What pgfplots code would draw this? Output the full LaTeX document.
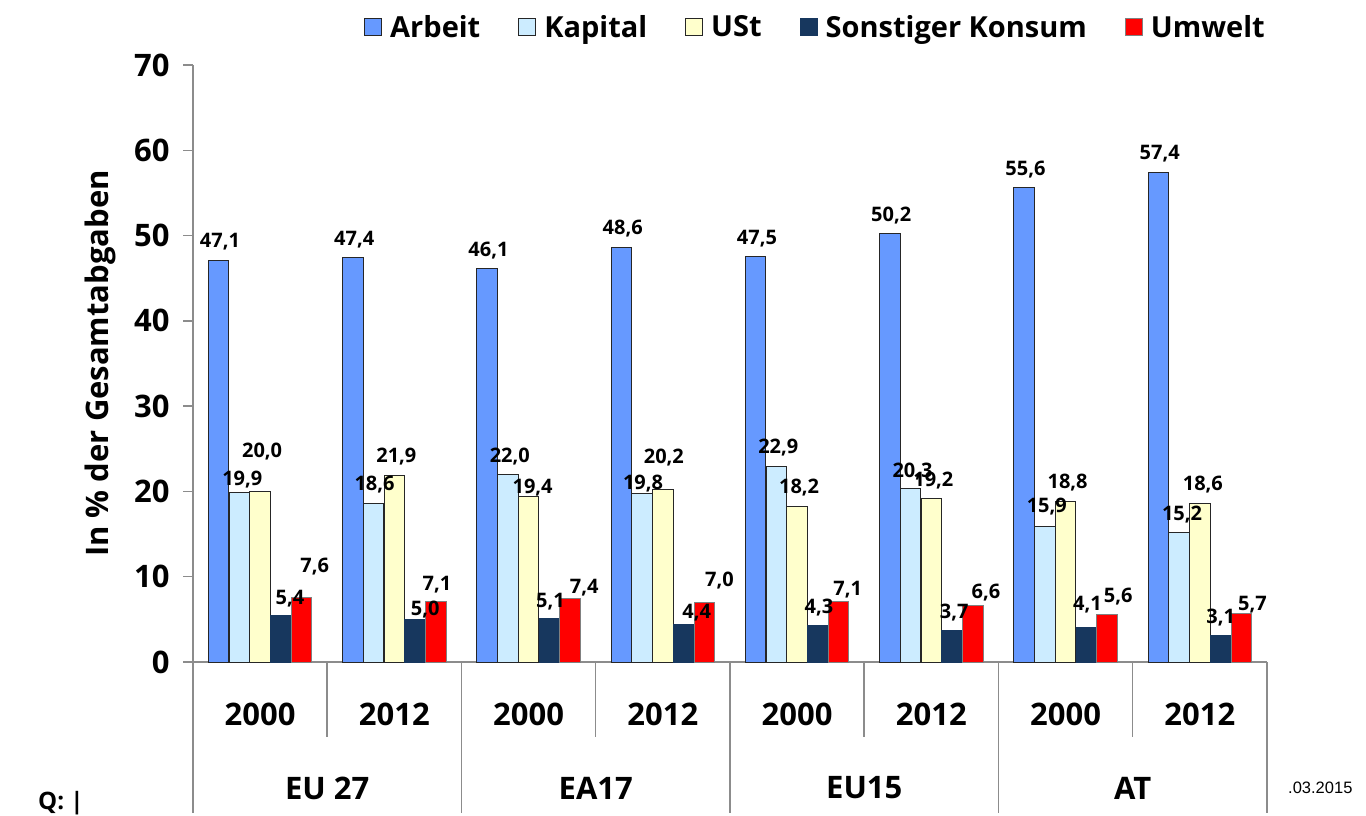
\documentclass[border=0pt]{standalone}
\usepackage{fontspec}
\setmainfont{Open Sans}
\newfontfamily\arialf{Liberation Sans}
\usepackage{pgfplots}
\usepackage{pgfplotstable}
\pgfplotsset{compat=1.18}
\definecolor{cArb}{HTML}{6699FF}
\definecolor{cKap}{HTML}{CCECFF}
\definecolor{cUSt}{HTML}{FFFFCC}
\definecolor{cSon}{HTML}{17375E}
\definecolor{cUmw}{HTML}{FF0000}
\definecolor{axgray}{HTML}{8C8C8C}

\pgfplotstableread{
x y dx dy
0 47.1 1.5 18.5
1 47.4 1.5 18.5
2 46.1 1.5 18.5
3 48.6 1.5 18.5
4 47.5 1.5 18.5
5 50.2 1.5 18.5
6 55.6 1.5 18.5
7 57.4 1.5 18.5
}\tArb
\pgfplotstableread{
x y dx dy
0 19.9 3 13
1 18.6 1 19
2 22.0 2 18
3 19.8 1 10
4 22.9 2 19
5 20.3 2 17
6 15.9 2 20
7 15.2 3 18
}\tKap
\pgfplotstableread{
x y dx dy
0 20.0 2 40
1 21.9 2 19
2 19.4 4 9
3 20.2 1 32
4 18.2 2 19
5 19.2 2 18
6 18.8 2 19
7 18.6 3 19
}\tUSt
\pgfplotstableread{
x y dx dy
0 5.4 9 17
1 5.0 10 10
2 5.1 1 17
3 4.4 13 12
4 4.3 1 18
5 3.7 2 18
6 4.1 1 22
7 3.1 0 18
}\tSon
\pgfplotstableread{
x y dx dy
0 7.6 13 31
1 7.1 1 17
2 7.4 14 11
3 7.0 15 22
4 7.1 9 12
5 6.6 13 13
6 5.6 11 18
7 5.7 11 9
}\tUmw

\begin{document}
\begin{tikzpicture}
\path[use as bounding box] (0,0) rectangle (1366bp,816bp);
\begin{axis}[
  at={(193bp,154bp)}, anchor=south west,
  scale only axis, width=1074bp, height=597bp,
  xmin=-0.5, xmax=7.5, ymin=0, ymax=70,
  clip=false,
  ybar=0.3bp, bar width=20.5bp,
  axis x line*=bottom, axis y line*=left,
  axis line style={-, draw=axgray, line width=1.5bp},
  /pgf/number format/assume math mode=true,
  tick align=outside, major tick length=10bp,
  ytick={0,10,...,70},
  ytick style={draw=axgray, line width=1.5bp},
  yticklabel style={font=\bfseries\fontsize{31bp}{35bp}\selectfont, xshift=-10bp},
  xtick={0,...,7},
  xticklabels={2000,2012,2000,2012,2000,2012,2000,2012},
  xtick style={draw=none},
  xticklabel style={font=\bfseries\fontsize{31bp}{35bp}\selectfont, anchor=center, yshift=-42bp},
  extra x ticks={0.5,2.5,4.5,6.5},
  extra x tick labels={EU 27,EA17,EU15,AT},
  extra x tick style={xtick style={draw=none}, xticklabel style={yshift=-74bp}},
  ylabel={In \% der Gesamtabgaben},
  ylabel style={at={(axis description cs:-0.0866,0.5)}, anchor=center, font=\bfseries\fontsize{31bp}{35bp}\selectfont},
  visualization depends on={\thisrow{dx} \as \dx},
  visualization depends on={\thisrow{dy} \as \dy},
  nodes near coords={\pgfmathprintnumber[fixed,fixed zerofill,precision=1,use comma]{\pgfplotspointmeta}},
  every node near coord/.append style={font=\bfseries\fontsize{20bp}{24bp}\selectfont, text=black, anchor=center, xshift={\dx*1bp}, yshift={\dy*1bp}, inner sep=0pt},
  legend columns=-1,
  legend style={at={(axis description cs:0.5796,1.0637)}, anchor=center, draw=none, fill=none,
    font=\bfseries\fontsize{29bp}{33bp}\selectfont,
    /tikz/every odd column/.append style={column sep=6bp},
    /tikz/every even column/.append style={column sep=36bp}},
  legend image code/.code={\draw[#1, line width=1bp] (0bp,-8.5bp) rectangle (17bp,8.5bp);},
]
\addplot[fill=cArb, draw=black!85, line width=1bp] table[x=x,y=y] {\tArb};
\addplot[fill=cKap, draw=black!85, line width=1bp] table[x=x,y=y] {\tKap};
\addplot[fill=cUSt, draw=black!85, line width=1bp] table[x=x,y=y] {\tUSt};
\addplot[fill=cSon, draw=cSon, line width=1bp] table[x=x,y=y] {\tSon};
\addplot[fill=cUmw, draw=gray, line width=1bp] table[x=x,y=y] {\tUmw};
\legend{Arbeit, Kapital, USt, Sonstiger Konsum, Umwelt}
\pgfplotsinvokeforeach{0.5,2.5,4.5,6.5}{\draw[axgray, line width=1.5bp] (axis cs:#1,0) -- ([yshift=-75bp]axis cs:#1,0);}
\pgfplotsinvokeforeach{-0.5,1.5,3.5,5.5,7.5}{\draw[axgray, line width=1.5bp] (axis cs:#1,0) -- ([yshift=-151bp]axis cs:#1,0);}
\end{axis}
\node[anchor=west, font=\bfseries\fontsize{24bp}{28bp}\selectfont, inner sep=0pt] at (38bp,13bp) {Q: |};
\node[anchor=west, font=\arialf\fontsize{16.5bp}{20bp}\selectfont, inner sep=0pt] at (1288bp,28bp) {.03.2015};
\end{tikzpicture}
\end{document}
